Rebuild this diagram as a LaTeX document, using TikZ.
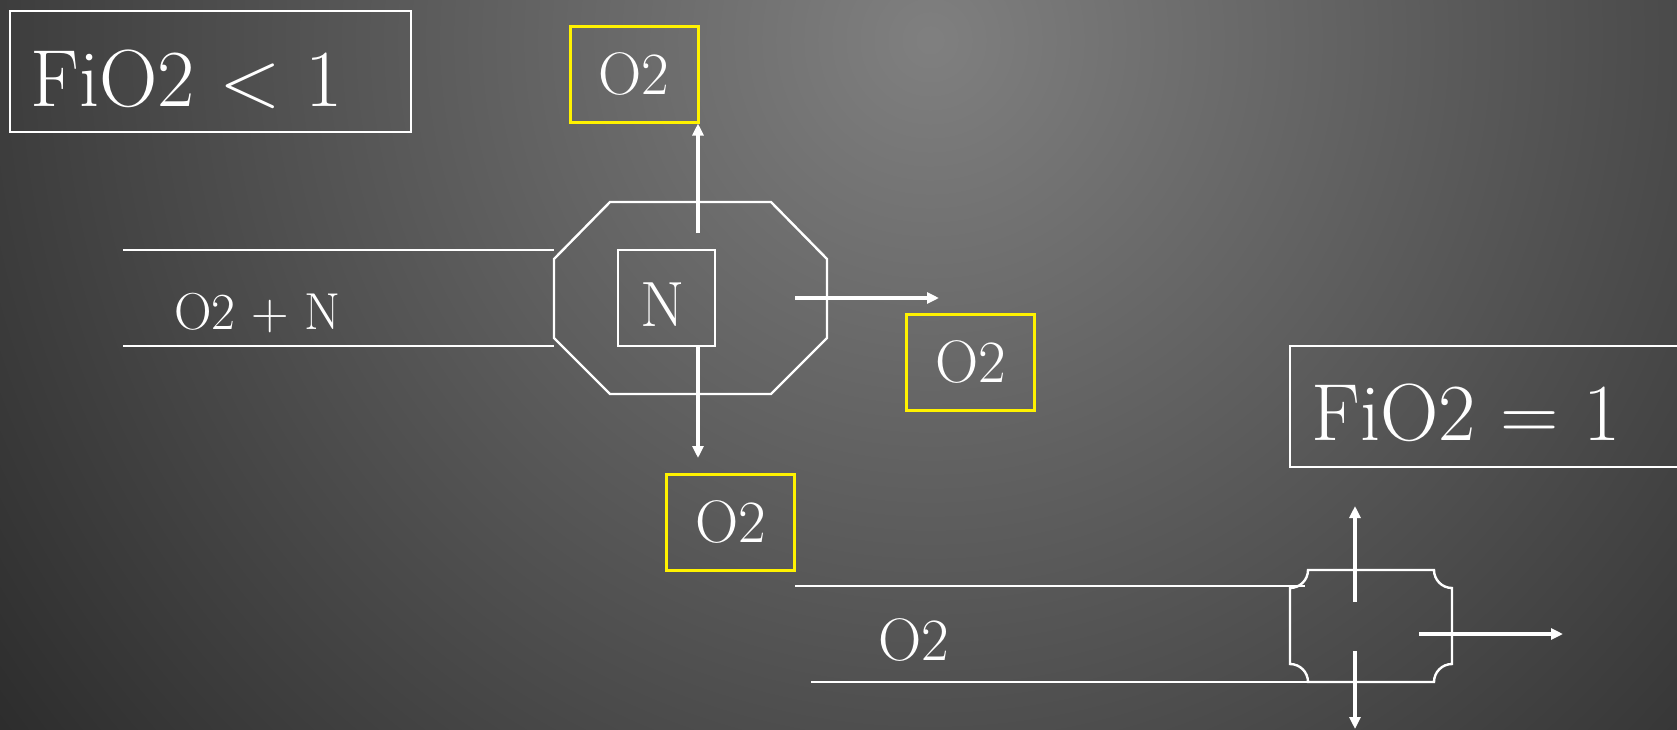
\documentclass[tikz,border=0pt]{standalone}
\usepackage{fontspec}
\usetikzlibrary{arrows.meta}
\begin{document}
\begin{tikzpicture}[x=0.5pt,y=-0.5pt,
  pipe/.style={draw=white,line width=1.2pt},
  wall/.style={draw=white,line width=1.2pt,line join=miter},
  flow/.style={draw=white,line width=2pt,-{Triangle[length=6pt,width=5.5pt]}},
  framebox/.style={draw=white,line width=1.3pt,minimum width=200.5pt,minimum height=60.5pt,inner sep=0pt},
  gasbox/.style={draw=yellow,line width=1.5pt,minimum width=64pt,minimum height=48pt,inner sep=0pt,
    text=white,font=\fontsize{30}{32}\selectfont},
  bigtext/.style={text=white,inner sep=0pt,font=\fontsize{40.5}{42}\selectfont},
  smalltext/.style={text=white,inner sep=0pt,font=\fontsize{26}{28}\selectfont},
  midtext/.style={text=white,inner sep=0pt,font=\fontsize{30}{32}\selectfont},
  ]
% background with a soft radial light
\useasboundingbox (0,0) rectangle (1677,729);
\begin{scope}
  \clip (0,0) rectangle (1677,729);
  \fill[gray!50!black] (0,0) rectangle (1677,729);
  \shade[inner color=black!50!white!100, outer color=black!85] (930,40) circle[radius=1250];
\end{scope}

% ---------- FiO2 < 1 : membrane separator ----------
\node[framebox] (fioA) at (210.5,71.5) {};
\node[bigtext,anchor=base west] (fioAt) at (30,106) {FiO2 < 1};

% inlet pipe
\draw[pipe] (123,250) -- (554,250);
\draw[pipe] (123,346) -- (554,346);
\node[smalltext,anchor=base west] (mix) at (174,329) {O2 + N};

% separator housing
\draw[wall] (610,202) -- (771,202) -- (827,259) -- (827,338) -- (771,394)
  -- (610,394) -- (554,338) -- (554,259) -- cycle;
\node[draw=white,line width=1.2pt,minimum width=48.5pt,minimum height=48pt,inner sep=0pt,
  text=white,font=\fontsize{32}{34}\selectfont] (nbox) at (666.5,298) {};
\node[text=white,inner sep=0pt,font=\fontsize{32}{34}\selectfont,anchor=base] (nlab) at (663,326) {N};

% oxygen outputs
\node[gasbox] (oTop) at (634,74) {O2};
\node[gasbox] (oRight) at (970.5,362) {O2};
\node[gasbox] (oBot) at (730.5,522) {O2};

\coordinate (upS) at (698,233);
\coordinate (dnS) at (698,346);
\coordinate (dnE) at (698,458);
\coordinate (rtS) at (795,298);
\coordinate (rtE) at (939,298);
\draw[flow] (upS) -- (upS |- oTop.south);
\draw[flow] (dnS) -- (dnE);
\draw[flow] (rtS) -- (rtE);

% ---------- FiO2 = 1 : pure oxygen ----------
\node[framebox] (fioB) at (1490.5,406.5) {};
\node[bigtext,anchor=base west] (fioBt) at (1311,440) {FiO2 = 1};

% inlet pipe
\draw[pipe] (795,586) -- (1305,586);
\draw[pipe] (811,682) -- (1322,682);
\node[midtext,anchor=base west] (oIn) at (878,660) {O2};

% housing with rounded inner corners
\draw[wall] (1308,570) -- (1434,570) arc[start angle=180,end angle=90,radius=18]
  -- (1452,664) arc[start angle=270,end angle=180,radius=18]
  -- (1308,682) arc[start angle=0,end angle=-90,radius=18]
  -- (1290,588) arc[start angle=90,end angle=0,radius=18] -- cycle;

\coordinate (bUpS) at (1355,602);
\coordinate (bUpE) at (1355,506);
\coordinate (bDnS) at (1355,651);
\coordinate (bDnE) at (1355,729);
\coordinate (bRtS) at (1419,634);
\coordinate (bRtE) at (1563,634);
\draw[flow] (bUpS) -- (bUpE);
\draw[flow] (bDnS) -- (bDnE);
\draw[flow] (bRtS) -- (bRtE);
\end{tikzpicture}
\end{document}
